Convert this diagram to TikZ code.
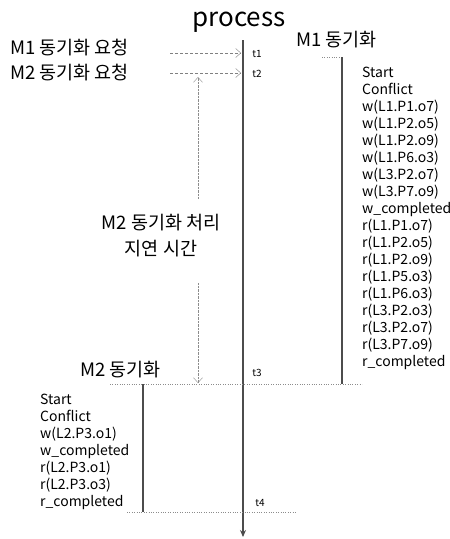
\documentclass[tikz,border=0pt]{standalone}
\usepackage{fontspec}
\setmainfont{Noto Sans CJK KR}
\usetikzlibrary{arrows.meta,positioning}

\begin{document}
\begin{tikzpicture}[x=1pt,y=-1pt,
        bar/.style={line width=2.4pt, black!70},
        req/.style={densely dashed, black!50, thin, -{Straight Barb[length=5pt,width=9pt]}},
        delay/.style={densely dotted, black!45, thin},
        sync/.style={dotted, black!45, thin},
        lab/.style={font=\fontsize{18.5}{26}\selectfont, inner sep=0pt},
        tlab/.style={font=\fontsize{10}{12}\selectfont, inner sep=0pt},
        log/.style={font=\fontsize{14}{17}\selectfont, align=left, anchor=north west, inner sep=0pt}]
        \useasboundingbox (0,0) rectangle (450,539);

        % Title and process axis
        \node[font=\fontsize{26}{30}\selectfont, inner sep=0pt, anchor=base] (title) at (239,26) {process};
        \coordinate (axtop) at (243,40);
        \coordinate (axbot) at (243,537);
        \draw[bar, -{Stealth[length=7pt,width=6pt]}] (axtop) -- (axbot);

        % Sync requests
        \node[lab, anchor=west] (req1) at (10,48) {M1 동기화 요청};
        \node[lab, anchor=west] (req2) at (10,73) {M2 동기화 요청};
        \coordinate (r1) at (170,53);
        \coordinate (r2) at (170,73);
        \coordinate (p1) at (241,53);
        \coordinate (p2) at (241,73);
        \draw[req] (r1) -- (p1);
        \draw[req] (r2) -- (p2);
        \node[tlab] (t1) at (257,54) {t1};
        \node[tlab] (t2) at (257,74) {t2};

        % M1 sync
        \node[lab, anchor=west] (m1) at (296,40) {M1 동기화};
        \coordinate (m1top) at (342,57);
        \coordinate (m1bot) at (342,384);
        \coordinate (m1tick) at (322,57);
        \draw[sync] (m1tick) -- (m1top);
        \draw[bar] (m1top) -- (m1bot);
        \node[log] (m1log) at (362,67) {Start\\Conflict\\w(L1.P1.o7)\\w(L1.P2.o5)\\w(L1.P2.o9)\\w(L1.P6.o3)\\w(L3.P2.o7)\\w(L3.P7.o9)\\w\_completed\\r(L1.P1.o7)\\r(L1.P2.o5)\\r(L1.P2.o9)\\r(L1.P5.o3)\\r(L1.P6.o3)\\r(L3.P2.o3)\\r(L3.P2.o7)\\r(L3.P7.o9)\\r\_completed};

        % M2 delay
        \node[lab, align=center] (delay) at (161,236) {M2 동기화 처리\\지연 시간};
        \coordinate (d1) at (198,77);
        \coordinate (d2) at (198,198);
        \coordinate (d3) at (198,283);
        \coordinate (d4) at (198,383);
        \draw[delay, {Straight Barb[length=5pt,width=9pt]}-] (d1) -- (d2);
        \draw[delay, -{Straight Barb[length=5pt,width=9pt]}] (d3) -- (d4);

        % M2 sync
        \node[lab, anchor=west] (m2) at (80,370) {M2 동기화};
        \node[tlab] (t3) at (257,373) {t3};
        \coordinate (s3l) at (110,384);
        \coordinate (s3r) at (362,384);
        \draw[sync] (s3l) -- (s3r);
        \coordinate (m2top) at (143,384);
        \coordinate (m2bot) at (143,512);
        \draw[bar] (m2top) -- (m2bot);
        \node[log] (m2log) at (40,394) {Start\\Conflict\\w(L2.P3.o1)\\w\_completed\\r(L2.P3.o1)\\r(L2.P3.o3)\\r\_completed};
        \node[tlab] (t4) at (260,503) {t4};
        \coordinate (s4l) at (127,512);
        \coordinate (s4r) at (297,512);
        \draw[sync] (s4l) -- (s4r);
    \end{tikzpicture}
\end{document}
